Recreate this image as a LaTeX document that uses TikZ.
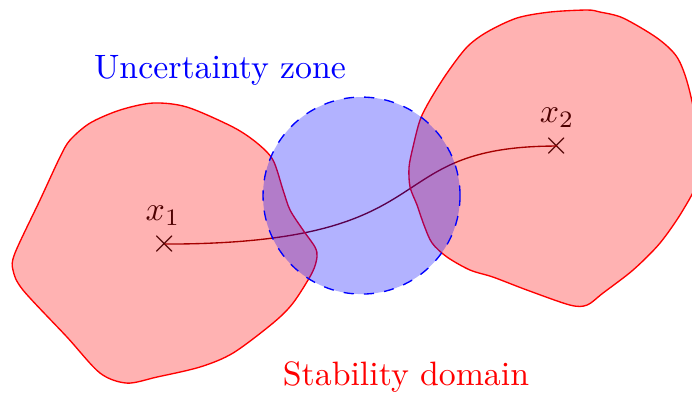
\documentclass[tikz,border=0pt]{standalone}
\usepackage{amsmath}
\begin{document}
\begin{tikzpicture}[
    gebiet/.style={draw=red, fill=red, fill opacity=0.3},
    zone/.style={draw=blue, dashed, fill=blue, fill opacity=0.3},
    kreuz/.style={inner sep=0pt}]
    \useasboundingbox (0,0) rectangle (7.193,4.096);
    % Punkte und Weg:
    \coordinate (x1) at (1.715,1.559);
    \coordinate (x2) at (5.790,2.578);
    \node[kreuz] (k1) at (x1) {$\times$};
    \node[kreuz] (k2) at (x2) {$\times$};
    \node[kreuz, anchor=base] (l1) at (1.694,1.809) {$x_1$};
    \node[kreuz, anchor=base] (l2) at (5.790,2.827) {$x_2$};
    \draw[red!50!black] (x1) .. controls (4.719,1.559) and (3.867,2.578) .. (x2);
    % Stabilitaetsgebiete:
    \draw[gebiet] plot[smooth cycle] coordinates {
        (1.590,3.025) (1.944,2.983) (2.422,2.775) (2.672,2.609)
        (2.838,2.432) (2.942,2.121) (3.015,1.913) (3.150,1.705)
        (3.274,1.528) (3.295,1.424) (3.243,1.258) (3.046,0.946)
        (2.838,0.738) (2.422,0.426) (2.079,0.281) (1.632,0.177)
        (1.320,0.114) (1.040,0.218) (0.696,0.593) (0.239,1.081)
        (0.135,1.289) (0.156,1.466) (0.416,2.017) (0.624,2.464)
        (0.728,2.640) (0.936,2.817) (1.247,2.952)};
    \draw[gebiet] plot[smooth cycle] coordinates {
        (6.102,3.992) (5.717,3.971) (5.374,3.909) (5.062,3.763)
        (4.854,3.607) (4.647,3.337) (4.470,3.056) (4.366,2.848)
        (4.293,2.568) (4.252,2.360) (4.262,2.152) (4.335,1.965)
        (4.407,1.757) (4.491,1.570) (4.647,1.424) (4.886,1.289)
        (5.125,1.216) (5.478,1.081) (5.925,0.925) (6.102,0.925)
        (6.268,1.050) (6.580,1.289) (6.861,1.570) (7.100,1.913)
        (7.245,2.225) (7.245,2.744) (7.152,3.212) (7.037,3.503)
        (6.830,3.701) (6.476,3.909) (6.237,3.971)};
    % Unsicherheitszone:
    \draw[zone] (3.758,2.063) circle (1.024);
    \node[blue, anchor=base] (unsicher) at (2.287,3.285) {Uncertainty zone};
    \node[red, anchor=base] (stabil) at (4.220,0.094) {Stability domain};
\end{tikzpicture}
\end{document}
